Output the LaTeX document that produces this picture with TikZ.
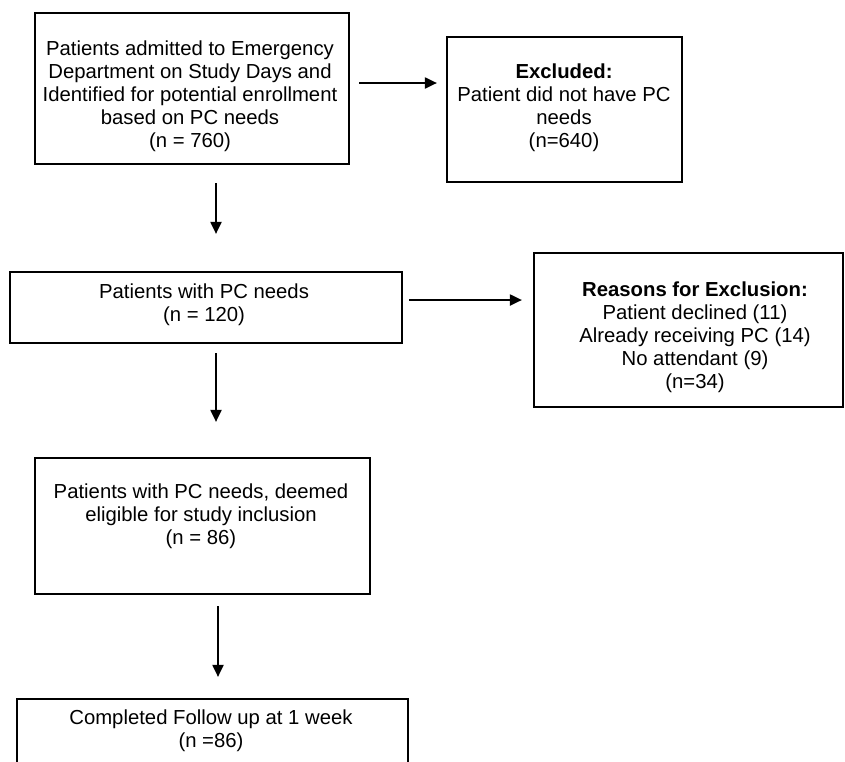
\documentclass[tikz,border=0pt]{standalone}
\usepackage{fontspec}
\setmainfont{Liberation Sans}
\usetikzlibrary{arrows.meta,calc}
\begin{document}
\begin{tikzpicture}[x=1pt,y=-1pt,
  box/.style={draw, line width=2.2pt, inner sep=0pt},
  lbl/.style={align=center, font=\fontsize{20.3}{23}\selectfont, inner sep=0pt},
  arr/.style={line width=2pt, -{Triangle[length=12pt,width=11pt]}}]
\clip (0,0) rectangle (845,761);
\fill[white] (0,0) rectangle (845,761);
% boxes
\node[box, minimum width=314pt, minimum height=151pt] (b1) at (192,88.5) {};
\node[box, minimum width=235pt, minimum height=145pt] (b2) at (564.5,109.5) {};
\node[box, minimum width=392pt, minimum height=71pt] (b3) at (206,307.5) {};
\node[box, minimum width=309pt, minimum height=154pt] (b4) at (688.5,330) {};
\node[box, minimum width=335pt, minimum height=136pt] (b5) at (202.5,526) {};
\node[box, minimum width=391pt, minimum height=101pt] (b6) at (212.5,749.5) {};
% texts
\node[lbl] (t1) at (190,96) {Patients admitted to Emergency\\Department on Study Days and\\Identified for potential enrollment\\based on PC needs\\(n = 760)};
\node[lbl] (t2) at (564,108) {\textbf{Excluded:}\\Patient did not have PC\\needs\\(n=640)};
\node[lbl] (t3) at (204,305) {Patients with PC needs\\(n = 120)};
\node[lbl] (t4) at (695,337) {\textbf{Reasons for Exclusion:}\\Patient declined (11)\\Already receiving PC (14)\\No attendant (9)\\(n=34)};
\node[lbl] (t5) at (201,516) {Patients with PC needs, deemed\\eligible for study inclusion\\(n = 86)};
\node[lbl] (t6) at (211,731) {Completed Follow up at 1 week\\(n =86)};
% arrows
\draw[arr] ($(b1.east)+(9,-5.5)$) -- ($(b2.west)+(-9,-26.5)$);
\draw[arr] ($(b1.south)+(24,18)$) -- ($(b3.north)+(10,-37)$);
\draw[arr] ($(b3.east)+(6,-7.5)$) -- ($(b4.west)+(-11,-30)$);
\draw[arr] ($(b3.south)+(10,9)$) -- ($(b5.north)+(13.5,-35)$);
\draw[arr] ($(b5.south)+(15.5,11)$) -- ($(b6.north)+(5.5,-21)$);
\end{tikzpicture}
\end{document}
